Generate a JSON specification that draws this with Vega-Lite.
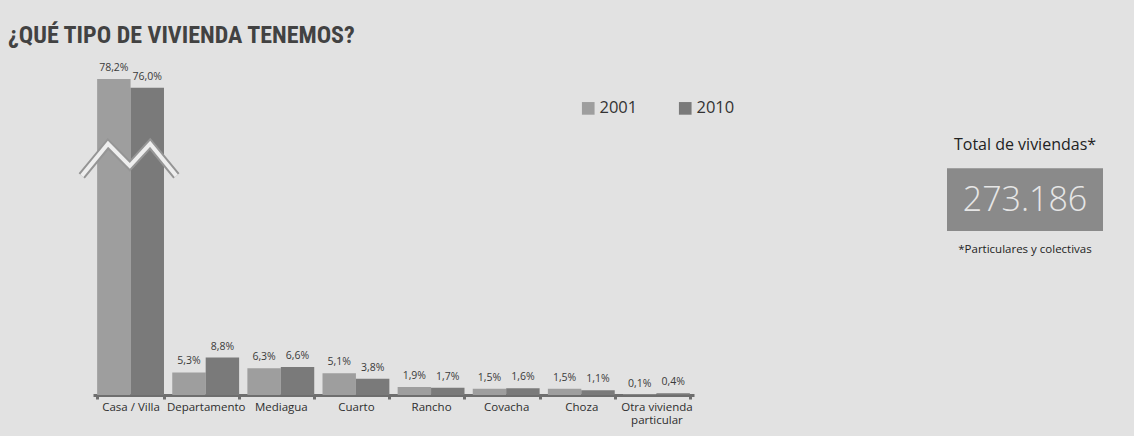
{
  "$schema": "https://vega.github.io/schema/vega-lite/v6.json",
  "background": "#e2e2e2",
  "padding": {"left": 8, "top": 24, "right": 31, "bottom": 10},
  "title": {
    "text": "¿QUÉ TIPO DE VIVIENDA TENEMOS?",
    "anchor": "start",
    "font": "'Roboto Condensed', Roboto, sans-serif",
    "fontSize": 24,
    "fontWeight": "bold",
    "color": "#424242",
    "offset": 1
  },
  "config": {"view": {"stroke": null}, "font": "'Open Sans', sans-serif"},
  "spacing": 159,
  "hconcat": [
    {
      "width": 780,
      "height": 346,
      "data": {
        "values": [
          {"tipo": "Casa / Villa", "anio": "2001", "pct": 78.2, "etiqueta": "78,2%"},
          {"tipo": "Casa / Villa", "anio": "2010", "pct": 76.0, "etiqueta": "76,0%"},
          {"tipo": "Departamento", "anio": "2001", "pct": 5.3, "etiqueta": "5,3%"},
          {"tipo": "Departamento", "anio": "2010", "pct": 8.8, "etiqueta": "8,8%"},
          {"tipo": "Mediagua", "anio": "2001", "pct": 6.3, "etiqueta": "6,3%"},
          {"tipo": "Mediagua", "anio": "2010", "pct": 6.6, "etiqueta": "6,6%"},
          {"tipo": "Cuarto", "anio": "2001", "pct": 5.1, "etiqueta": "5,1%"},
          {"tipo": "Cuarto", "anio": "2010", "pct": 3.8, "etiqueta": "3,8%"},
          {"tipo": "Rancho", "anio": "2001", "pct": 1.9, "etiqueta": "1,9%"},
          {"tipo": "Rancho", "anio": "2010", "pct": 1.7, "etiqueta": "1,7%"},
          {"tipo": "Covacha", "anio": "2001", "pct": 1.5, "etiqueta": "1,5%"},
          {"tipo": "Covacha", "anio": "2010", "pct": 1.6, "etiqueta": "1,6%"},
          {"tipo": "Choza", "anio": "2001", "pct": 1.5, "etiqueta": "1,5%"},
          {"tipo": "Choza", "anio": "2010", "pct": 1.1, "etiqueta": "1,1%"},
          {"tipo": "Otra vivienda particular", "anio": "2001", "pct": 0.1, "etiqueta": "0,1%"},
          {"tipo": "Otra vivienda particular", "anio": "2010", "pct": 0.4, "etiqueta": "0,4%"}
        ]
      },
      "layer": [
        {
          "mark": {"type": "bar"},
          "encoding": {
            "x": {
              "field": "tipo", "type": "nominal", "sort": null,
              "scale": {"range": [85, 686], "paddingInner": 0.11, "paddingOuter": 0.055},
              "axis": {
                "title": null,
                "labelAngle": 0,
                "labelFont": "'Open Sans', sans-serif",
                "labelFontSize": 11.5,
                "labelColor": "#2e2e2e",
                "labelPadding": 2,
                "labelOverlap": false,
                "labelBound": false,
                "labelLimit": 0,
                "labelLineHeight": 13,
                "labelExpr": "datum.value == 'Otra vivienda particular' ? ['Otra vivienda', 'particular'] : datum.value",
                "domainColor": "#6e6e6e",
                "domainWidth": 3,
                "tickColor": "#6e6e6e",
                "tickWidth": 3,
                "tickSize": 4,
                "tickBand": "extent"
              }
            },
            "xOffset": {"field": "anio", "type": "nominal"},
            "y": {
              "field": "pct", "type": "quantitative",
              "scale": {"domain": [0, 12, 78.2], "range": [346, 295, 30], "nice": false, "zero": false},
              "axis": null
            },
            "color": {
              "field": "anio", "type": "nominal",
              "scale": {"domain": ["2001", "2010"], "range": ["#9e9e9e", "#7a7a7a"]},
              "legend": {
                "title": null,
                "orient": "none",
                "legendX": 572,
                "legendY": 51,
                "direction": "horizontal",
                "symbolType": "square",
                "symbolSize": 160,
                "symbolStrokeWidth": 0,
                "labelFont": "'Open Sans', sans-serif",
                "labelFontSize": 16.5,
                "labelColor": "#333333",
                "labelOffset": 3,
                "columnPadding": 39
              }
            }
          }
        },
        {
          "mark": {"type": "text", "baseline": "bottom", "dy": -6, "fontSize": 10.5, "color": "#3a3a3a"},
          "encoding": {
            "x": {
              "field": "tipo", "type": "nominal", "sort": null,
              "scale": {"range": [85, 686], "paddingInner": 0.11, "paddingOuter": 0.055},
              "axis": null
            },
            "xOffset": {"field": "anio", "type": "nominal"},
            "y": {
              "field": "pct", "type": "quantitative",
              "scale": {"domain": [0, 12, 78.2], "range": [346, 295, 30], "nice": false, "zero": false},
              "axis": null
            },
            "text": {"field": "etiqueta"}
          }
        },
        {
          "data": {
            "values": [
              {"o": 1, "bx": -0.15, "by": 54.0},
              {"o": 2, "bx": 0.2, "by": 62.0},
              {"o": 3, "bx": 0.49, "by": 56.5},
              {"o": 4, "bx": 0.76, "by": 62.0},
              {"o": 5, "bx": 1.11, "by": 54.0}
            ]
          },
          "mark": {"type": "line", "color": "#959595", "strokeWidth": 8, "strokeJoin": "miter"},
          "encoding": {
            "x": {"field": "bx", "type": "quantitative", "scale": {"domain": [0, 8], "range": [85, 686], "nice": false, "zero": false}, "axis": null},
            "y": {"field": "by", "type": "quantitative", "scale": {"domain": [0, 12, 78.2], "range": [346, 295, 30], "nice": false, "zero": false}, "axis": null},
            "order": {"field": "o"}
          }
        },
        {
          "data": {
            "values": [
              {"o": 1, "bx": -0.15, "by": 54.0},
              {"o": 2, "bx": 0.2, "by": 62.0},
              {"o": 3, "bx": 0.49, "by": 56.5},
              {"o": 4, "bx": 0.76, "by": 62.0},
              {"o": 5, "bx": 1.11, "by": 54.0}
            ]
          },
          "mark": {"type": "line", "color": "#eeeeee", "strokeWidth": 4, "strokeJoin": "miter"},
          "encoding": {
            "x": {"field": "bx", "type": "quantitative", "scale": {"domain": [0, 8], "range": [85, 686], "nice": false, "zero": false}, "axis": null},
            "y": {"field": "by", "type": "quantitative", "scale": {"domain": [0, 12, 78.2], "range": [346, 295, 30], "nice": false, "zero": false}, "axis": null},
            "order": {"field": "o"}
          }
        }
      ],
      "resolve": {"scale": {"x": "independent"}}
    },
    {
      "width": 156,
      "height": 346,
      "data": {
        "values": [
          {"x0": 0, "x1": 1, "y0": 0.474, "y1": 0.655, "xc": 0.5, "yt": 0.722, "yn": 0.561, "yf": 0.418,
           "titulo": "Total de viviendas*", "total": "273.186", "nota": "*Particulares y colectivas"}
        ]
      },
      "layer": [
        {
          "mark": {"type": "rect", "color": "#8a8a8a"},
          "encoding": {
            "x": {"field": "x0", "type": "quantitative", "scale": {"domain": [0, 1], "nice": false}, "axis": null},
            "x2": {"field": "x1"},
            "y": {"field": "y0", "type": "quantitative", "scale": {"domain": [0, 1], "nice": false}, "axis": null},
            "y2": {"field": "y1"}
          }
        },
        {
          "mark": {"type": "text", "fontSize": 16, "color": "#222222"},
          "encoding": {
            "x": {"field": "xc", "type": "quantitative", "scale": {"domain": [0, 1], "nice": false}, "axis": null},
            "y": {"field": "yt", "type": "quantitative", "scale": {"domain": [0, 1], "nice": false}, "axis": null},
            "text": {"field": "titulo"}
          }
        },
        {
          "mark": {"type": "text", "fontWeight": 300, "fontSize": 34, "color": "#e6e6e6"},
          "encoding": {
            "x": {"field": "xc", "type": "quantitative", "scale": {"domain": [0, 1], "nice": false}, "axis": null},
            "y": {"field": "yn", "type": "quantitative", "scale": {"domain": [0, 1], "nice": false}, "axis": null},
            "text": {"field": "total"}
          }
        },
        {
          "mark": {"type": "text", "fontSize": 11.5, "color": "#222222"},
          "encoding": {
            "x": {"field": "xc", "type": "quantitative", "scale": {"domain": [0, 1], "nice": false}, "axis": null},
            "y": {"field": "yf", "type": "quantitative", "scale": {"domain": [0, 1], "nice": false}, "axis": null},
            "text": {"field": "nota"}
          }
        }
      ]
    }
  ]
}
